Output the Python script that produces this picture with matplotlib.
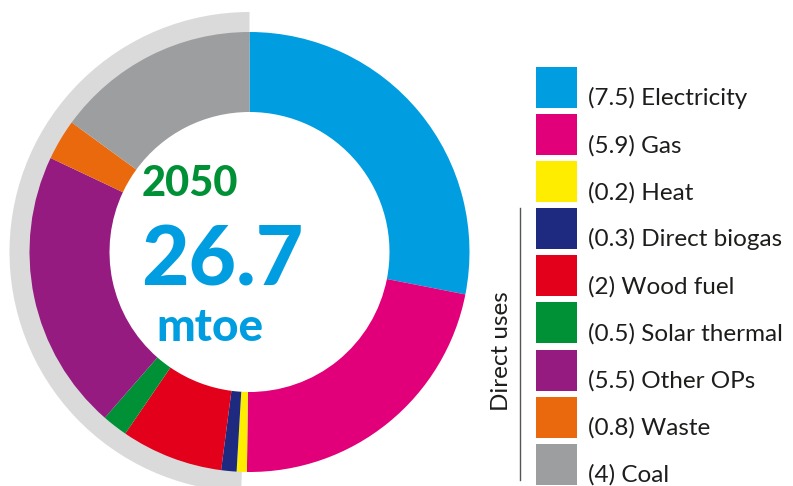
import matplotlib.pyplot as plt
from matplotlib.patches import Wedge, Rectangle

# energy mix 2050 (mtoe)
labels = ["Electricity", "Gas", "Heat", "Direct biogas", "Wood fuel",
          "Solar thermal", "Other OPs", "Waste", "Coal"]
values = [7.5, 5.9, 0.2, 0.3, 2, 0.5, 5.5, 0.8, 4]
value_text = ["7.5", "5.9", "0.2", "0.3", "2", "0.5", "5.5", "0.8", "4"]
colors = ["#009EE0", "#E2007A", "#FFED00", "#1D2A80", "#E2001A",
          "#009036", "#951B81", "#E9690C", "#9D9E9F"]
year = "2050"
total = "26.7"
unit = "mtoe"

W, H = 793, 486
fig = plt.figure(figsize=(W / 100, H / 100), dpi=100)
ax = fig.add_axes([0, 0, 1, 1])

cx, cy = 249.5, H - 252
r_out, r_in = 220, 140

# grey half ring behind the direct uses
ax.add_patch(Wedge((cx, cy), 240, 90, 268, width=30, facecolor="#DADADB",
                   edgecolor="none", zorder=1))

ax.pie(values, colors=colors, startangle=90, counterclock=False,
       center=(cx, cy), radius=r_out, frame=True,
       wedgeprops=dict(width=r_out - r_in, edgecolor="none", zorder=2))
ax.set_xlim(0, W)
ax.set_ylim(0, H)
ax.set_aspect("equal")
ax.axis("off")

ax.text(190, H - 184, year, color="#009036", fontsize=30, fontweight=900,
        family="Lato", ha="center", va="center")
ax.text(222, H - 262, total, color="#009EE0", fontsize=59, fontweight=900,
        family="Lato", ha="center", va="center")
ax.text(210, H - 328, unit, color="#009EE0", fontsize=33, fontweight=900,
        family="Lato", ha="center", va="center")

# legend
sq_x, sq_size, top0, pitch = 536, 41, 67, 47.1
for i, (lab, v, c) in enumerate(zip(labels, value_text, colors)):
    top = top0 + pitch * i
    ax.add_patch(Rectangle((sq_x, H - top - sq_size), sq_size, sq_size,
                           facecolor=c, edgecolor="none"))
    ax.text(588, H - (top + sq_size - 3), f"({v}) {lab}", fontsize=17.5,
            family="Lato", fontweight="normal", color="#1D1D1B",
            ha="left", va="baseline")

ax.plot([520, 520], [H - 208, H - 480], color="#555555", lw=1)
ax.text(502, H - 351, "Direct uses", rotation=90, fontsize=17.5, family="Lato",
        fontweight="normal", color="#1D1D1B", ha="center", va="center")

fig.savefig("out.png", dpi=100)
